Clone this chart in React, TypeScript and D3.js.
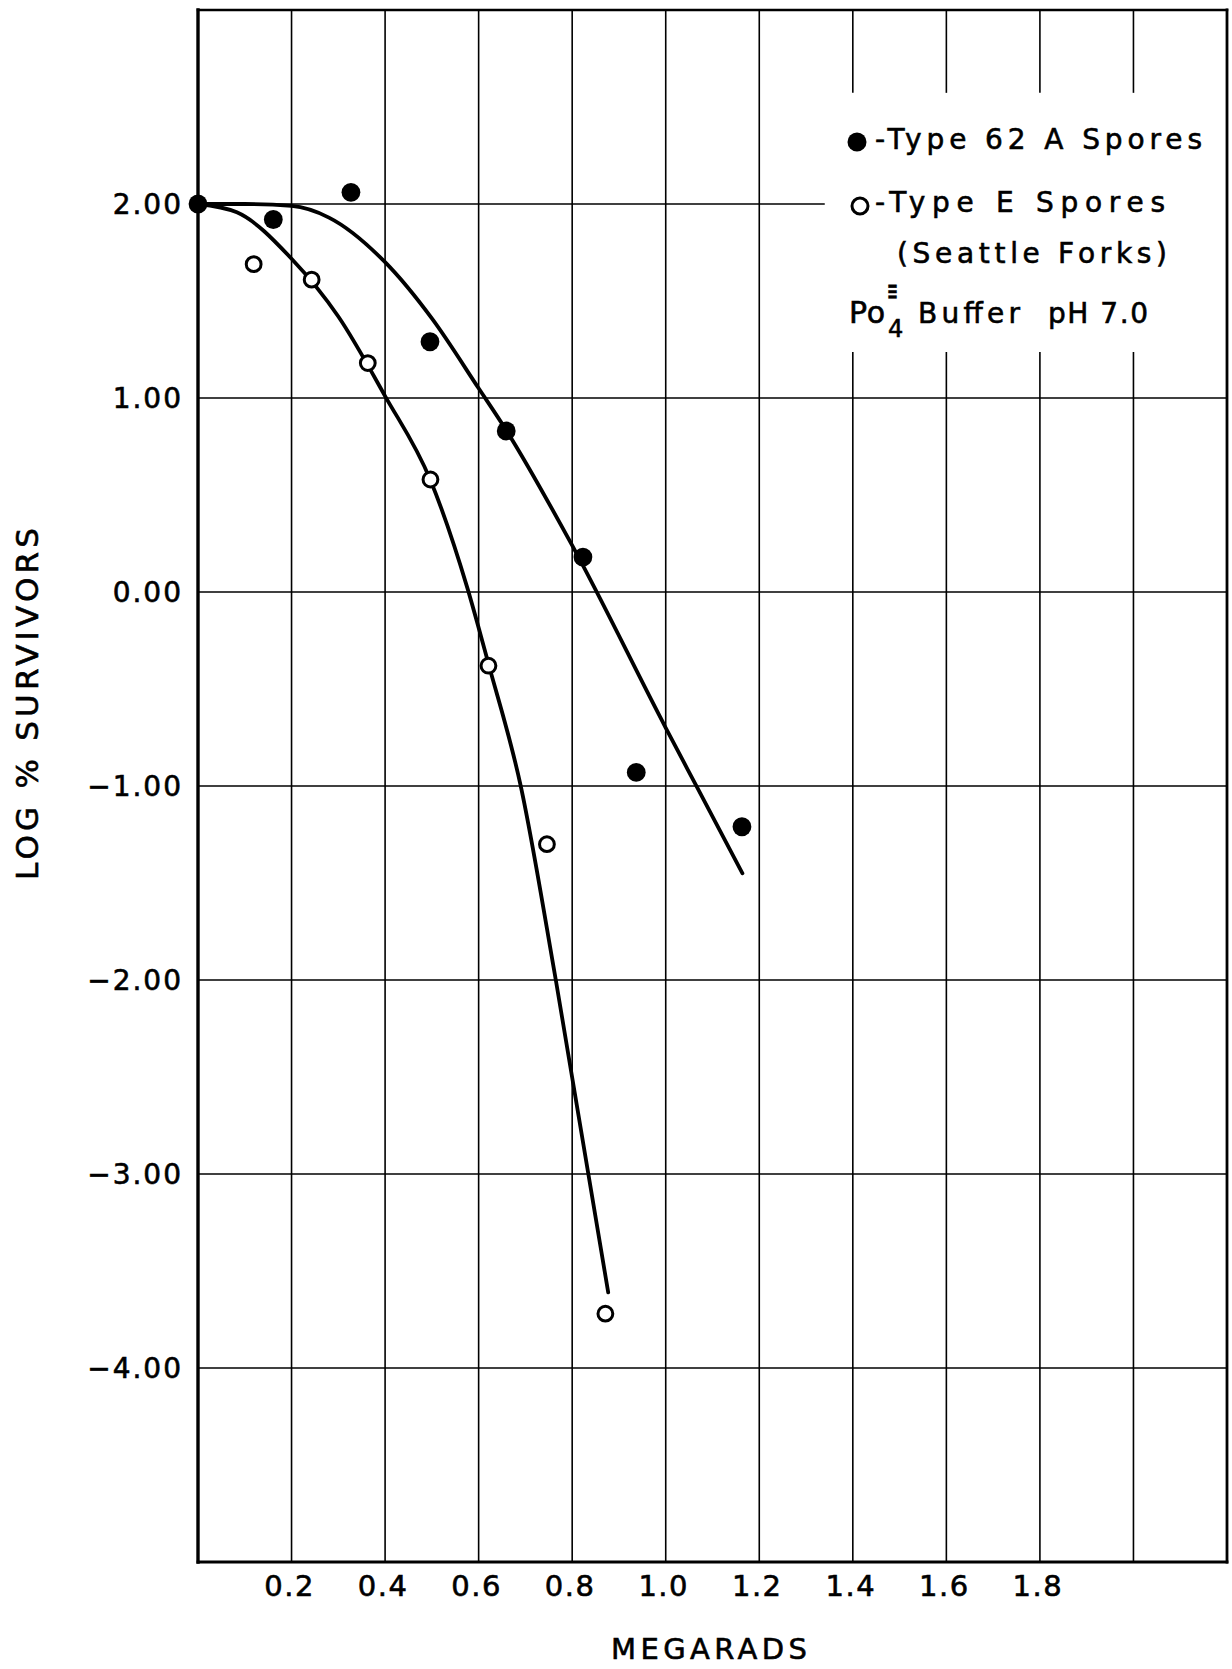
import React, { useRef, useEffect } from 'react';
import * as d3 from 'd3';

// axis ticks / gridlines
const doseLabels = [0.2, 0.4, 0.6, 0.8, 1.0, 1.2, 1.4, 1.6, 1.8];
const doseGrid = [0.2, 0.4, 0.6, 0.8, 1.0, 1.2, 1.4, 1.6, 1.8, 2.0];
const logTicks = [2, 1, 0, -1, -2, -3, -4];

// Type 62A spores (filled dots)
const dose62A = [0, 0.161, 0.327, 0.496, 0.659, 0.823, 0.937, 1.163];
const log62A = [2.0, 1.92, 2.06, 1.29, 0.83, 0.18, -0.93, -1.21];

// Type E spores, Seattle Forks (open circles)
const doseE = [0.119, 0.243, 0.363, 0.497, 0.621, 0.746, 0.871];
const logE = [1.69, 1.61, 1.18, 0.58, -0.38, -1.3, -3.72];

// hand drawn curves
const fit62ADose = [0, 0.1, 0.2, 0.28, 0.4, 0.5, 0.6, 0.659, 0.8, 1.0, 1.07, 1.164];
const fit62ALog = [2.0, 2.0, 1.99, 1.93, 1.7, 1.41, 1.05, 0.834, 0.24, -0.7, -1.02, -1.45];
const fitEDose = [0, 0.083, 0.2, 0.3, 0.4, 0.497, 0.576, 0.621, 0.69, 0.765, 0.877];
const fitELog = [2.0, 1.957, 1.718, 1.42, 1.01, 0.576, 0.02, -0.37, -1.0, -2.0, -3.61];

const W = 1232;
const H = 1669;
const FONT = '"DejaVu Sans", sans-serif';

const App = () => {
  const svgRef = useRef<SVGSVGElement>(null);

  useEffect(() => {
    const svg = d3.select(svgRef.current);
    svg.selectAll('*').remove();

    const x = d3.scaleLinear().domain([0, 2.2]).range([198, 1227]);
    const y = d3.scaleLinear().domain([-5, 3]).range([1562, 10]);

    svg.append('rect').attr('width', W).attr('height', H).attr('fill', '#fff');

    const grid = svg.append('g').attr('stroke', '#000').attr('stroke-width', 1.6);

    // vertical grid, broken where the legend sits
    doseGrid.forEach(d => {
      const segs = d >= 1.4 ? [[3, 2.573], [1.237, -5]] : [[3, -5]];
      segs.forEach(([a, b]) => {
        grid.append('line')
          .attr('x1', x(d)).attr('x2', x(d))
          .attr('y1', y(a)).attr('y2', y(b));
      });
    });

    // horizontal grid
    logTicks.forEach(v => {
      grid.append('line')
        .attr('x1', x(0)).attr('x2', x(v === 2 ? 1.34 : 2.2))
        .attr('y1', y(v)).attr('y2', y(v));
    });

    // frame
    const frame = svg.append('g').attr('stroke', '#000').attr('stroke-linecap', 'square');
    frame.append('line').attr('x1', x(0)).attr('x2', x(2.2)).attr('y1', y(3)).attr('y2', y(3)).attr('stroke-width', 2.5);
    frame.append('line').attr('x1', x(0)).attr('x2', x(2.2)).attr('y1', y(-5)).attr('y2', y(-5)).attr('stroke-width', 2.8);
    frame.append('line').attr('x1', x(2.2)).attr('x2', x(2.2)).attr('y1', y(3)).attr('y2', y(-5)).attr('stroke-width', 2.8);
    frame.append('line').attr('x1', x(0)).attr('x2', x(0)).attr('y1', y(3)).attr('y2', y(-5)).attr('stroke-width', 3.4);

    // curves
    const line = d3.line<[number, number]>()
      .x(d => x(d[0]))
      .y(d => y(d[1]))
      .curve(d3.curveMonotoneX);

    [[fit62ADose, fit62ALog], [fitEDose, fitELog]].forEach(([xs, ys]) => {
      svg.append('path')
        .datum(xs.map((d, i) => [d, ys[i]] as [number, number]))
        .attr('fill', 'none')
        .attr('stroke', '#000')
        .attr('stroke-width', 3.8)
        .attr('stroke-linecap', 'round')
        .attr('d', line);
    });

    // points
    svg.append('g').selectAll('circle')
      .data(doseE.map((d, i) => [d, logE[i]]))
      .enter()
      .append('circle')
      .attr('cx', d => x(d[0]))
      .attr('cy', d => y(d[1]))
      .attr('r', 7.4)
      .attr('fill', '#fff')
      .attr('stroke', '#000')
      .attr('stroke-width', 3);

    svg.append('g').selectAll('circle')
      .data(dose62A.map((d, i) => [d, log62A[i]]))
      .enter()
      .append('circle')
      .attr('cx', d => x(d[0]))
      .attr('cy', d => y(d[1]))
      .attr('r', 9.4)
      .attr('fill', '#000');

    const txt = svg.append('g')
      .attr('font-family', FONT)
      .attr('fill', '#000')
      .attr('stroke', '#000')
      .attr('stroke-width', 0.6);

    // tick labels
    const fmt = d3.format('.2f');
    txt.append('g').selectAll('text')
      .data(logTicks)
      .enter()
      .append('text')
      .attr('x', 183)
      .attr('y', d => y(d))
      .attr('dy', '0.36em')
      .attr('text-anchor', 'end')
      .attr('font-size', 28)
      .attr('letter-spacing', 2)
      .text(d => fmt(d));

    txt.append('g').selectAll('text')
      .data(doseLabels)
      .enter()
      .append('text')
      .attr('x', d => x(d) - 2)
      .attr('y', 1596)
      .attr('text-anchor', 'middle')
      .attr('font-size', 29)
      .attr('letter-spacing', 1.5)
      .text(d => d3.format('.1f')(d));

    // axis titles
    txt.append('text')
      .attr('x', 709)
      .attr('y', 1659)
      .attr('text-anchor', 'middle')
      .attr('font-size', 29)
      .attr('textLength', 196)
      .attr('lengthAdjust', 'spacing')
      .text('MEGARADS');

    txt.append('text')
      .attr('transform', 'translate(38,704) rotate(-90)')
      .attr('text-anchor', 'middle')
      .attr('font-size', 31)
      .attr('textLength', 352)
      .attr('lengthAdjust', 'spacing')
      .text('LOG % SURVIVORS');

    // legend
    const leg = txt.append('g').attr('font-size', 28).style('white-space', 'pre');
    leg.append('circle').attr('cx', 857).attr('cy', 142).attr('r', 9.5).attr('fill', '#000').attr('stroke', 'none');
    leg.append('text').attr('x', 875).attr('y', 149).attr('textLength', 327).attr('lengthAdjust', 'spacing').text('-Type  62 A  Spores');
    leg.append('circle').attr('cx', 860).attr('cy', 206).attr('r', 8).attr('fill', '#fff').attr('stroke', '#000').attr('stroke-width', 3);
    leg.append('text').attr('x', 875).attr('y', 212).attr('textLength', 290).attr('lengthAdjust', 'spacing').text('-Type  E   Spores');
    leg.append('text').attr('x', 897).attr('y', 263).attr('textLength', 270).attr('lengthAdjust', 'spacing').text('(Seattle Forks)');
    leg.append('text').attr('x', 849).attr('y', 323).attr('font-size', 30).attr('textLength', 36).attr('lengthAdjust', 'spacing').text('Po');
    leg.append('text').attr('x', 888).attr('y', 337).attr('font-size', 24).text('4');
    leg.append('text').attr('x', 887).attr('y', 301).attr('font-size', 30).attr('textLength', 11).attr('lengthAdjust', 'spacingAndGlyphs').text('≡');
    leg.append('text').attr('x', 918).attr('y', 323).attr('textLength', 102).attr('lengthAdjust', 'spacing').text('Buffer');
    leg.append('text').attr('x', 1048).attr('y', 323).attr('textLength', 100).attr('lengthAdjust', 'spacing').text('pH 7.0');
  }, []);

  return (
    <svg
      ref={svgRef}
      width={W}
      height={H}
      style={{ position: 'absolute', left: 0, top: 0, display: 'block' }}
    />
  );
};

export default App;
